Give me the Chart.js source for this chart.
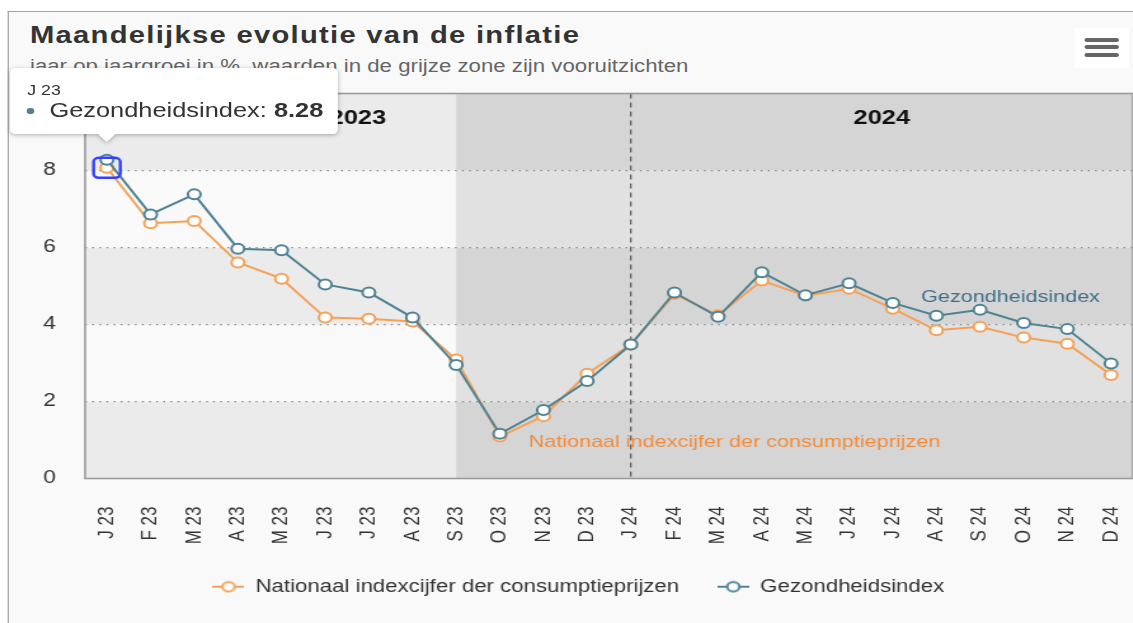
<!DOCTYPE html>
<html lang="nl">
<head>
<meta charset="utf-8">
<title>Maandelijkse evolutie van de inflatie</title>
<script src="https://cdn.jsdelivr.net/npm/chart.js@4.4.1/dist/chart.umd.min.js"></script>
<style>
  html, body { margin: 0; padding: 0; background: #fff; overflow: hidden; }
  body { width: 1133px; height: 623px; position: relative; font-family: "Liberation Sans", Arial, sans-serif; }
  /* the reference is drawn a little wider than it is high, so the whole stage is stretched */
  #stage { position: absolute; left: 0; top: 0; width: 899px; height: 623px; transform: scaleX(1.27); transform-origin: 0 0; }
  #frame { position: absolute; left: 6px; top: 11px; width: 900px; height: 620px; border-left: 1.3px solid #a3a3a3; border-top: 1.5px solid #a3a3a3; background: #f9f9f9; }
  #title { position: absolute; left: 23.6px; top: 23.9px; font-size: 23px; line-height: 23px; font-weight: bold; color: #333; letter-spacing: 1px; white-space: nowrap; }
  #subtitle { position: absolute; left: 23.6px; top: 57.7px; font-size: 17.5px; line-height: 17.5px; color: #666; white-space: nowrap; }
  #menu { position: absolute; left: 846px; top: 28px; width: 43px; height: 40px; background: #fff; border-radius: 3px; }
  #menu span { position: absolute; left: 8.3px; width: 26.8px; height: 3.4px; background: #666; border-radius: 1.7px; }
  canvas { position: absolute; left: 0; top: 0; }
  #tip { position: absolute; display: none; background: #fff; border-radius: 4px; padding: 14.6px 11.7px 12px 13.4px; color: #333; white-space: nowrap; filter: drop-shadow(0 1px 2px rgba(0,0,0,0.3)); }
  #tip .tip-head { font-size: 14px; line-height: 16px; }
  #tip .tip-body { font-size: 20px; line-height: 24px; }
  #tip .tip-dot { display: inline-block; width: 5.5px; height: 6.5px; border-radius: 50%; margin-right: 12px; vertical-align: 3px; }
  #tip .tip-caret { position: absolute; bottom: -8px; width: 0; height: 0; border-left: 7px solid transparent; border-right: 7px solid transparent; border-top: 8px solid #fff; }
</style>
</head>
<body>
<div id="stage">
  <div id="frame"></div>
  <div id="title">Maandelijkse evolutie van de inflatie</div>
  <div id="subtitle">jaar op jaargroei in %, waarden in de grijze zone zijn vooruitzichten</div>
  <div id="menu"><span style="top:10.3px"></span><span style="top:17.3px"></span><span style="top:25.3px"></span></div>
  <canvas id="chart" width="899" height="623"></canvas>
  <div id="tip"></div>
</div>
<script>
//data
const months = ['J 23', 'F 23', 'M 23', 'A 23', 'M 23', 'J 23', 'J 23', 'A 23', 'S 23', 'O 23', 'N 23', 'D 23',
  'J 24', 'F 24', 'M 24', 'A 24', 'M 24', 'J 24', 'J 24', 'A 24', 'S 24', 'O 24', 'N 24', 'D 24'];
const nationalIndex = [8.07, 6.63, 6.69, 5.61, 5.19, 4.18, 4.15, 4.08, 3.09, 1.09, 1.62, 2.72,
  3.48, 4.79, 4.24, 5.14, 4.75, 4.93, 4.41, 3.85, 3.94, 3.66, 3.50, 2.69];
const healthIndex = [8.28, 6.86, 7.38, 5.97, 5.93, 5.04, 4.83, 4.18, 2.95, 1.16, 1.78, 2.53,
  3.48, 4.83, 4.20, 5.36, 4.76, 5.07, 4.56, 4.23, 4.38, 4.04, 3.88, 2.99];
const seriesNames = ['Nationaal indexcijfer der consumptieprijzen', 'Gezondheidsindex'];
const years = ['2023', '2024'];
const yearStartIndex = 12;      // J 24
const forecastStartIndex = 8;   // S 23, grey zone
const bandStops = [0, 2, 4, 6, 8, 10];

//styles
const orange = '#f5a158';
const teal = '#4f8394';
const font = '"Liberation Sans", Arial, sans-serif';

Chart.defaults.font.family = font;

//legend icon: short line with an open circle
const legendIcon = (color) => {
  const c = document.createElement('canvas');
  c.width = 25;
  c.height = 14;
  const g = c.getContext('2d');
  g.strokeStyle = color;
  g.lineWidth = 2;
  g.beginPath();
  g.moveTo(0, 7);
  g.lineTo(25, 7);
  g.stroke();
  g.beginPath();
  g.arc(12.5, 7, 4.8, 0, Math.PI * 2);
  g.fillStyle = '#fff';
  g.fill();
  g.stroke();
  return c;
};
const icons = [legendIcon(orange), legendIcon(teal)];

//background bands, grey forecast zone, dashed year line
const plotDecor = {
  id: 'plotDecor',
  beforeDraw(chart) {
    const { ctx, chartArea: a, scales: { x, y } } = chart;
    const split = x.getPixelForValue(forecastStartIndex);
    ctx.save();
    for (let i = 0; i < bandStops.length - 1; i++) {
      const top = y.getPixelForValue(bandStops[i + 1]);
      const bot = y.getPixelForValue(bandStops[i]);
      const dark = i % 2 === 0;
      ctx.fillStyle = dark ? '#ebebeb' : '#f9f9f9';
      ctx.fillRect(a.left, top, split - a.left, bot - top);
      ctx.fillStyle = dark ? '#d5d5d5' : '#e1e1e1';
      ctx.fillRect(split, top, a.right - split, bot - top);
    }
    ctx.restore();
  },
  beforeDatasetsDraw(chart) {
    const { ctx, chartArea: a, scales: { x } } = chart;
    const yearX = x.getPixelForValue(yearStartIndex);
    ctx.save();
    ctx.strokeStyle = '#555';
    ctx.lineWidth = 1.2;
    ctx.setLineDash([5, 4]);
    ctx.beginPath();
    ctx.moveTo(yearX, a.top);
    ctx.lineTo(yearX, a.bottom);
    ctx.stroke();
    ctx.setLineDash([]);

    ctx.fillStyle = '#111';
    ctx.font = 'bold 20px ' + font;
    ctx.textAlign = 'center';
    ctx.textBaseline = 'middle';
    ctx.fillText(years[0], (a.left + yearX) / 2, a.top + 25);
    ctx.fillText(years[1], (yearX + a.right) / 2, a.top + 25);

    ctx.strokeStyle = '#9a9a9a';
    ctx.lineWidth = 1.6;
    ctx.strokeRect(a.left, a.top, a.right - a.left, a.bottom - a.top);
    ctx.restore();
  },
  afterDatasetsDraw(chart) {
    const { ctx, scales: { x, y } } = chart;
    ctx.save();
    ctx.font = '17px ' + font;
    ctx.textAlign = 'left';
    ctx.textBaseline = 'middle';
    ctx.fillStyle = '#3f7088';
    ctx.fillText(seriesNames[1], x.getPixelForValue(18.65), y.getPixelForValue(4.71));
    ctx.fillStyle = '#f28c3c';
    ctx.fillText(seriesNames[0], x.getPixelForValue(9.66), y.getPixelForValue(0.94));

    //keyboard focus ring on the first point
    const el = chart.getDatasetMeta(0).data[0];
    ctx.strokeStyle = '#3340ff';
    ctx.lineWidth = 2.4;
    ctx.beginPath();
    ctx.roundRect(el.x - 10.5, el.y - 10, 21, 20, 4);
    ctx.stroke();
    ctx.restore();
  },
};

//html tooltip
const renderTip = ({ tooltip }) => {
  const tip = document.querySelector('#tip');
  if (!tooltip.opacity || !tooltip.dataPoints || !tooltip.dataPoints.length) {
    tip.style.display = 'none';
    return;
  }
  const dp = tooltip.dataPoints[0];
  tip.innerHTML = '';
  const head = document.createElement('div');
  head.className = 'tip-head';
  head.textContent = dp.label;
  const body = document.createElement('div');
  body.className = 'tip-body';
  const dot = document.createElement('span');
  dot.className = 'tip-dot';
  dot.style.background = dp.dataset.borderColor;
  const val = document.createElement('b');
  val.textContent = dp.raw.toFixed(2);
  body.append(dot, document.createTextNode(dp.dataset.label + ': '), val);
  const caret = document.createElement('div');
  caret.className = 'tip-caret';
  tip.append(head, body, caret);
  tip.style.display = 'block';
  const w = tip.offsetWidth;
  const h = tip.offsetHeight;
  const left = Math.max(8, tooltip.caretX - w / 2);
  tip.style.left = left + 'px';
  tip.style.top = (tooltip.caretY - 25 - h) + 'px';
  caret.style.left = (tooltip.caretX - left - 7) + 'px';
};

const lineSet = (label, data, color, order) => ({
  label,
  data,
  order,
  borderColor: color,
  backgroundColor: '#fff',
  borderWidth: 2,
  tension: 0,
  pointRadius: 5,
  pointHoverRadius: 5,
  pointBorderWidth: 2,
  pointHoverBorderWidth: 2,
  pointBackgroundColor: '#fff',
  pointHoverBackgroundColor: '#fff',
  pointBorderColor: color,
  pointHoverBorderColor: color,
});

const chart = new Chart(document.querySelector('#chart'), {
  type: 'line',
  data: {
    labels: months,
    datasets: [
      lineSet(seriesNames[0], nationalIndex, orange, 1),
      lineSet(seriesNames[1], healthIndex, teal, 0),
    ],
  },
  options: {
    responsive: false,
    animation: false,
    events: [],
    layout: { padding: { top: 93.5, right: 0, bottom: 17.5, left: 12 } },
    scales: {
      x: {
        offset: true,
        grid: { display: false, drawTicks: false, offset: true },
        border: { display: false },
        ticks: { autoSkip: false, maxRotation: 90, minRotation: 90, padding: 28, color: '#333', font: { size: 17 } },
        afterFit: (scale) => {
          scale.height = 69.5;
          scale.paddingLeft = 0;
          scale.paddingRight = 0;
        },
      },
      y: {
        min: 0,
        max: 10,
        ticks: { stepSize: 2, padding: 23, color: '#333', font: { size: 18 } },
        grid: {
          drawTicks: false,
          lineWidth: 1.3,
          color: (ctx) => (ctx.tick && (ctx.tick.value === 0 || ctx.tick.value === 10)) ? 'rgba(0,0,0,0)' : '#858585',
        },
        border: { display: false, dash: [1.4, 4.2] },
        afterFit: (scale) => { scale.width = 55; },
      },
    },
    plugins: {
      title: { display: false },
      legend: {
        position: 'bottom',
        labels: {
          usePointStyle: true,
          pointStyleWidth: 25,
          padding: 30,
          color: '#333',
          font: { size: 17.5 },
          sort: (a, b) => a.datasetIndex - b.datasetIndex,
          generateLabels: (ch) => Chart.defaults.plugins.legend.labels.generateLabels(ch).map((item) => {
            item.pointStyle = icons[item.datasetIndex];
            return item;
          }),
        },
      },
      tooltip: { enabled: false, external: renderTip },
    },
  },
  plugins: [plotDecor],
});

//show the tooltip of the first health index point
chart.tooltip.setActiveElements([{ datasetIndex: 1, index: 0 }], { x: 0, y: 0 });
</script>
</body>
</html>
